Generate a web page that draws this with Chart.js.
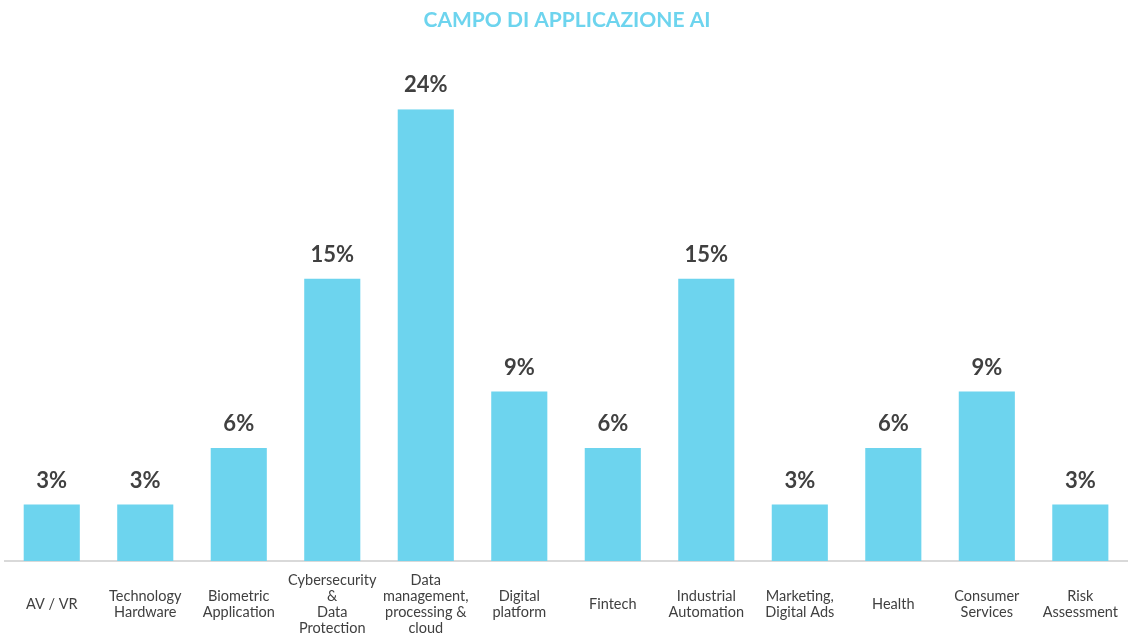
<!DOCTYPE html>
<html>
<head>
<meta charset="utf-8">
<script src="https://cdn.jsdelivr.net/npm/chart.js@4"></script>
<style>
  html, body { margin: 0; padding: 0; background: #fff; }
  #wrap { width: 1129px; height: 634px; }
</style>
</head>
<body>
<div id="wrap"><canvas id="chartAI"></canvas></div>
<script>
const categorie = [
  ["AV / VR"],
  ["Technology", "Hardware"],
  ["Biometric", "Application"],
  ["Cybersecurity", "&", "Data", "Protection"],
  ["Data", "management,", "processing &", "cloud"],
  ["Digital", "platform"],
  ["Fintech"],
  ["Industrial", "Automation"],
  ["Marketing,", "Digital Ads"],
  ["Health"],
  ["Consumer", "Services"],
  ["Risk", "Assessment"]
];
const percentuali = [3, 3, 6, 15, 24, 9, 6, 15, 3, 6, 9, 3];

const azzurro = "#6dd4ee";
const font = "'Lato', 'DejaVu Sans', sans-serif";

// etichette con la percentuale sopra ogni barra
const etichette = {
  id: "etichette",
  afterDatasetsDraw(chart) {
    const ctx = chart.ctx;
    const meta = chart.getDatasetMeta(0);
    ctx.save();
    ctx.font = "bold 22px " + font;
    ctx.fillStyle = "#404040";
    ctx.textAlign = "center";
    ctx.textBaseline = "middle";
    meta.data.forEach((bar, i) => {
      ctx.fillText(percentuali[i] + "%", bar.x, bar.y - 24);
    });
    ctx.restore();
  }
};

new Chart(document.getElementById("chartAI"), {
  type: "bar",
  data: {
    labels: categorie,
    datasets: [{
      data: percentuali,
      backgroundColor: azzurro,
      categoryPercentage: 1,
      barPercentage: 0.6
    }]
  },
  options: {
    responsive: true,
    maintainAspectRatio: false,
    animation: false,
    layout: { padding: { left: 5, right: 0, top: 0, bottom: 0 } },
    plugins: {
      legend: { display: false },
      tooltip: { enabled: false },
      title: {
        display: true,
        text: "CAMPO DI APPLICAZIONE AI",
        color: azzurro,
        font: { family: font, size: 21, weight: "bold" },
        padding: { top: 8, bottom: 76 }
      }
    },
    scales: {
      x: {
        grid: { display: false },
        border: { color: "#d9d9d9", width: 2 },
        afterFit(scale) { scale.height = 73; },
        ticks: {
          color: "#404040",
          font: { family: font, size: 14.5, lineHeight: 1.1 },
          padding: 11,
          maxRotation: 0,
          autoSkip: false,
          crossAlign: "center"
        }
      },
      y: {
        display: false,
        min: 0,
        max: 24
      }
    }
  },
  plugins: [etichette]
});
</script>
</body>
</html>
